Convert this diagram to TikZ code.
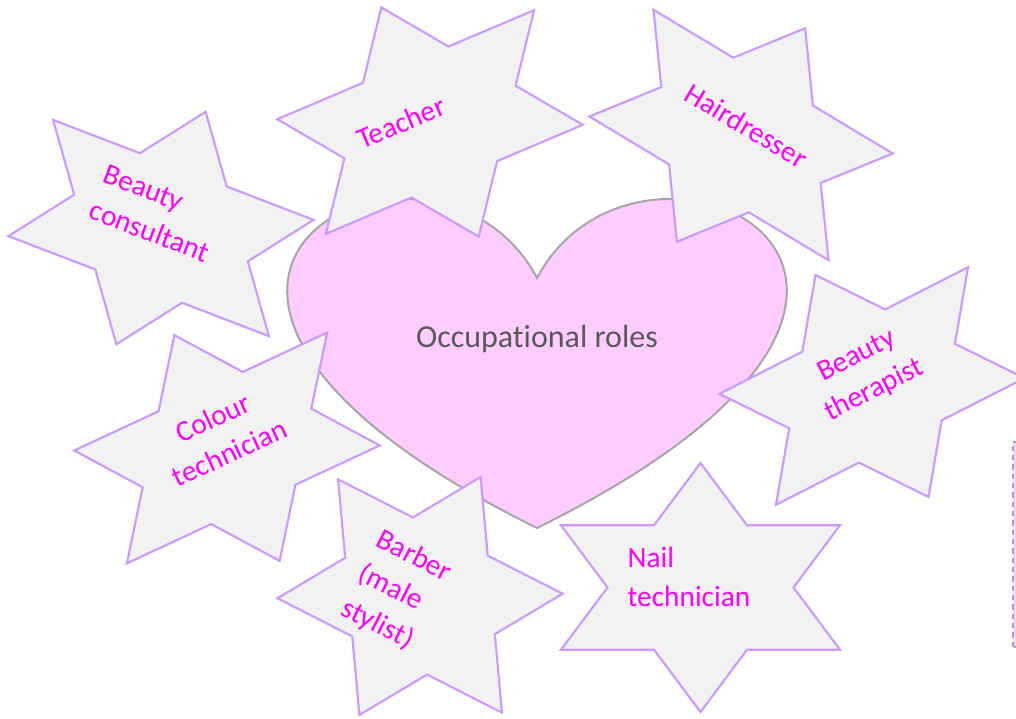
\documentclass[tikz,border=0pt]{standalone}
\usepackage{fontspec}
\setmainfont{Carlito}[Ligatures={NoCommon,NoRequired}]
\usepackage{tikz}

\definecolor{lilac}{HTML}{CC99FF}
\definecolor{palegrey}{HTML}{F2F2F2}
\definecolor{pinkheart}{HTML}{FFCCFF}
\definecolor{greyline}{HTML}{A6A6A6}
\definecolor{magentatext}{HTML}{FF00FF}
\definecolor{darkgrey}{HTML}{595959}

\tikzset{
  starshape/.style={draw=lilac, fill=palegrey, line width=1.6pt},
  heartshape/.style={draw=greyline, fill=pinkheart, line width=1.5pt},
  rolel/.style={text=magentatext, font=\fontsize{22}{29}\selectfont, align=left, inner sep=0pt, transform shape},
  rolec/.style={rolel, align=center},
  roletitle/.style={text=darkgrey, font=\fontsize{24}{29}\selectfont, inner sep=0pt}
}

\begin{document}
\begin{tikzpicture}[x=0.75pt,y=0.75pt]

\useasboundingbox (0,0) rectangle (1016,718);
\clip (0,0) rectangle (1016,718);

% Heart in the middle
\draw[heartshape] (537,440) .. controls (640.3,634) and (1043.3,440) .. (537,190)
  .. controls (30.7,440) and (433.7,634) .. (537,440) -- cycle;
\node[roletitle, anchor=base] (roles) at (537,370) {Occupational roles};

% Shape cut off at the right edge
\draw[greyline, fill=pinkheart, line width=1.5pt, dash pattern=on 4pt off 3pt] (1013,71) rectangle (1040,276);

% Six-point stars round the heart
\foreach \nm/\cx/\cy/\ang/\sx/\sy/\tx/\ty/\st/\lbl in {
    teacher/430/596/23/139.5/124.5/-27/11/rolel/{Teacher},
    hairdresser/741/583/-31/139.5/124.5/0/11/rolel/{Hairdresser},
    consultant/161/490/-21/139.5/124.5/-9.5/12/rolel/{Beauty\\consultant},
    colour/227/270/25/139.5/124.5/0/14/rolec/{Colour\\technician},
    therapist/872/332/27/139.5/124.5/0/14/rolec/{Beauty\\therapist},
    barber/420/122/-27/126/133.5/-23.5/-6.5/rolel/{Barber\\(male\\stylist)},
    nail/700.5/130.5/0/139.5/124.5/-11.5/10.5/rolel/{Nail\\technician}} {
  \begin{scope}[shift={(\cx,\cy)}, rotate=\ang]
    \draw[starshape, xscale=\sx, yscale=\sy] (0,1) -- (1/3,1/2) -- (1,1/2) -- (2/3,0)
      -- (1,-1/2) -- (1/3,-1/2) -- (0,-1) -- (-1/3,-1/2) -- (-1,-1/2) -- (-2/3,0)
      -- (-1,1/2) -- (-1/3,1/2) -- cycle;
    \node[\st] (\nm) at (\tx,\ty) {\lbl};
  \end{scope}
}

\end{tikzpicture}
\end{document}
